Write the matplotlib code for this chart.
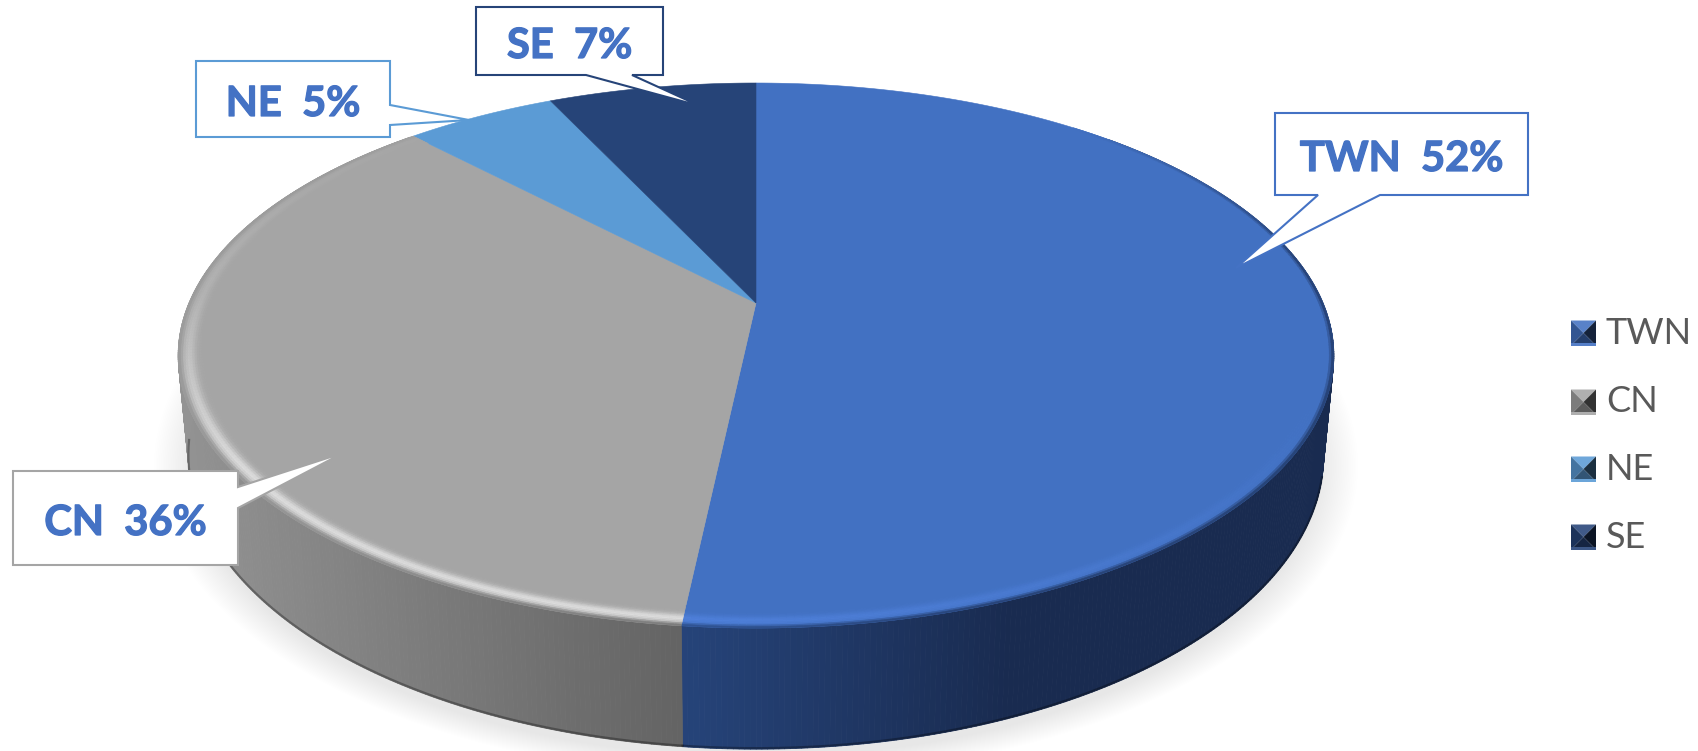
from matplotlib import pyplot as plt
from matplotlib.collections import PolyCollection
from matplotlib.patches import Ellipse, Polygon
from matplotlib.colors import to_rgb
import matplotlib.patheffects as pe
import numpy as np

labels = ["TWN", "CN", "NE", "SE"]
values = [51.7, 36.2, 5.1, 7.0]
colors = ["#4271c2", "#a5a5a5", "#5b9bd5", "#264478"]
text_color = "#4472c4"
legend_color = "#595959"

W, H = 1698, 751

#Pie geometry in pixels (perspective view of a disc)
CX = 756
TOP = dict(rx=567, y0=83, y1=628, apex=303)
BOTTOM = dict(rx=557, y0=162, y1=750, apex=399)
TILT = 0.1927

#Callouts: box (x0, y0, x1, y1), then pointer base a, tip, pointer base b
callouts = [
    ((1275, 113, 1528, 195), (1380, 195), (1236, 268), (1318, 195), "bottom"),
    ((13, 471, 238, 565), (238, 487), (343, 453), (238, 508), "right"),
    ((196, 61, 390, 137), (390, 105), (469, 120), (390, 125), "right"),
    ((476, 7, 663, 75), (632, 75), (700, 106), (586, 75), "bottom"),
]
legend_y = [333, 402, 469, 537]


def project(t, r=1.0, geo=TOP):
    #t in degrees, clockwise from the top of the pie
    t = np.radians(t)
    x, y = r * np.sin(t), r * np.cos(t)
    up = geo["apex"] - geo["y0"]
    a = up * (1 + TILT)
    w = 1 + TILT * y
    return CX + geo["rx"] * x / w, geo["apex"] - a * y / w


def mix(c1, c2, f):
    return tuple(np.array(c1) * (1 - f) + np.array(c2) * f)


def side_color(i, x):
    if i == 0:
        f = np.interp(x, [680, 1010], [0, 1])
        return mix(to_rgb("#26447a"), to_rgb("#192b50"), f)
    f = np.interp(x, [182, 680], [0, 1])
    return mix(to_rgb("#939393"), to_rgb("#646464"), f)


fig = plt.figure(figsize=(W / 100, H / 100), dpi=100)
ax = fig.add_axes([0, 0, 1, 1])
ax.set_xlim(0, W)
ax.set_ylim(H, 0)
ax.axis("off")

#Soft shadow under the pie
for s in np.linspace(1.06, 0.99, 24):
    ax.add_patch(Ellipse((CX, 466), 2 * 568 * s, 2 * 294 * s, fc="black", ec="none", alpha=0.005, zorder=1))

edges = np.cumsum([0] + values) / sum(values) * 360

#Side wall
for i in range(2):
    ts = np.linspace(max(edges[i], 45), min(edges[i + 1], 316), 300)
    x0, y0 = project(ts)
    x1, y1 = project(ts, geo=BOTTOM)
    quads = []
    cols = []
    for k in range(len(ts) - 1):
        quads.append([(x0[k], y0[k]), (x0[k + 1], y0[k + 1]), (x1[k + 1], y1[k + 1]), (x1[k], y1[k])])
        cols.append(side_color(i, (x0[k] + x1[k]) / 2))
    ax.add_collection(PolyCollection(quads, facecolors=cols, edgecolors=cols, linewidths=0.6, zorder=2))
    keep = (ts > 105) & (ts < 262)
    ax.plot(x1[keep], y1[keep] - 1, color="black", lw=1.6, alpha=0.3, zorder=3)

#Top of the pie
for i in range(len(values)):
    ts = np.linspace(edges[i], edges[i + 1], 200)
    x, y = project(ts)
    apex = project(0, 0)
    ax.add_patch(Polygon([apex] + list(zip(x, y)), closed=True, fc=colors[i], ec=colors[i], lw=0.4, zorder=4))

#Bevel along the front rim
rs = np.linspace(0.95, 1.0, 14)
for i in range(2):
    ts = np.linspace(max(edges[i], 40), min(edges[i + 1], 325), 220)
    base = to_rgb(colors[i])
    light = to_rgb("#dcdcdc") if i == 1 else to_rgb("#4f80da")
    quads = []
    cols = []
    for k in range(len(ts) - 1):
        for j in range(len(rs) - 1):
            xa, ya = project(ts[k], rs[j])
            xb, yb = project(ts[k + 1], rs[j])
            xc, yc = project(ts[k + 1], rs[j + 1])
            xd, yd = project(ts[k], rs[j + 1])
            quads.append([(xa, ya), (xb, yb), (xc, yc), (xd, yd)])
            u = (rs[j] - 0.95) / 0.05
            if i == 1:
                s = np.interp(ts[k], [187, 235, 258, 272, 300, 325], [1, 1, 0.55, 0.25, 0.08, 0])
                e = np.interp(ts[k], [187, 250, 300, 325], [1, 1, 0.5, 0])
            else:
                s = np.interp(ts[k], [110, 187], [0, 1])
                e = np.interp(ts[k], [40, 80], [0, 1])
            p = np.exp(-((u - 0.6) / 0.22) ** 2) * s
            c = mix(base, light, p)
            c = mix(c, side_color(i, xa), np.clip((u - 0.78) / 0.22, 0, 1) * e)
            cols.append(c)
    ax.add_collection(PolyCollection(quads, facecolors=cols, edgecolors=cols, linewidths=0.4, zorder=5))

#Callouts
for i, (box, a, tip, b, side) in enumerate(callouts):
    x0, y0, x1, y1 = box
    if side == "bottom":
        pts = [(x0, y0), (x1, y0), (x1, y1), a, tip, b, (x0, y1)]
    else:
        pts = [(x0, y0), (x1, y0), a, tip, b, (x1, y1), (x0, y1)]
    border = text_color if i == 0 else colors[i]
    ax.add_patch(Polygon(pts, closed=True, fc="white", ec=border, lw=1.5, joinstyle="miter", zorder=6))
    ax.text((x0 + x1) / 2, (y0 + y1) / 2 + 5, f"{labels[i]}  {round(values[i])}%", family="Lato", weight="bold",
            fontsize=30, color=text_color, ha="center", va="center", zorder=7,
            path_effects=[pe.withStroke(linewidth=0.9, foreground=text_color)])

#Legend with bevelled keys
for i, yc in enumerate(legend_y):
    c = to_rgb(colors[i])
    x0, x1 = 1571, 1596
    y0, y1 = yc - 12.5, yc + 12.5
    mx, my = (x0 + x1) / 2, (y0 + y1) / 2
    ax.add_patch(Polygon([(x0, y0), (x1, y0), (mx, my)], fc=mix(c, (1, 1, 1), 0.12), ec="none", zorder=6))
    ax.add_patch(Polygon([(x0, y0), (x0, y1), (mx, my)], fc=mix(c, (0, 0, 0), 0.25), ec="none", zorder=6))
    ax.add_patch(Polygon([(x1, y0), (x1, y1), (mx, my)], fc=mix(c, (0, 0, 0), 0.7), ec="none", zorder=6))
    ax.add_patch(Polygon([(x0, y1), (x1, y1), (mx, my)], fc=mix(c, (0, 0, 0), 0.45), ec="none", zorder=6))
    ax.add_patch(Polygon([(x0, y1 - 3), (x1, y1 - 3), (x1, y1), (x0, y1)], fc=mix(c, (1, 1, 1), 0.1), ec="none", zorder=7))
    ax.text(1606, yc, labels[i], family="Lato", fontsize=26, color=legend_color, ha="left", va="center", zorder=7)

fig.savefig("out.png", dpi=100)
